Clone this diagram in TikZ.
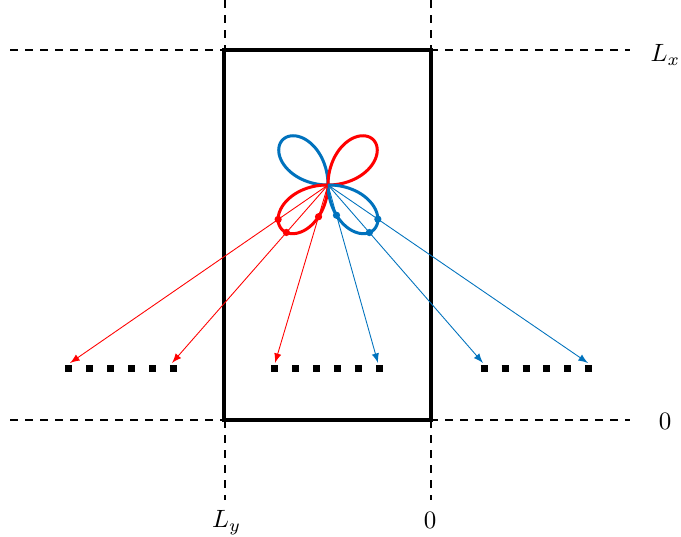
\documentclass[tikz,border=0pt]{standalone}
\usetikzlibrary{arrows}
\definecolor{lobeblue}{RGB}{0,114,189}

\begin{document}
\begin{tikzpicture}[x=0.4pt, y=-0.4pt]
    \tikzstyle{guide} = [dashed, line width=0.5pt]
    \tikzstyle{frame} = [line width=1.4pt]
    \tikzstyle{lobe} = [line width=1.2pt]
    \tikzstyle{ray} = [line width=0.35pt, ->, >=latex]
    \tikzstyle{pixels} = [line width=2.8pt, dash pattern=on 2.8pt off 5.58pt]
    \tikzstyle{lab} = [inner sep=0pt]

    \useasboundingbox (0,0) rectangle (681,536);

    % guide lines and labels
    \node (lx) [lab, anchor=base west] at (650,61.5) {$L_x$};
    \node (zr) [lab, anchor=base] at (665,429.5) {$0$};
    \node (ly) [lab, anchor=base west] at (211.5,527.5) {$L_y$};
    \node (zb) [lab, anchor=base] at (430,528) {$0$};
    \coordinate (ht1) at (10,50);
    \coordinate (ht2) at (630,50);
    \coordinate (hb1) at (10,420);
    \coordinate (hb2) at (630,420);
    \coordinate (vl1) at (225,0);
    \coordinate (vl2) at (225,500);
    \coordinate (vr1) at (431,0);
    \coordinate (vr2) at (431,500);
    \draw [guide] (ht1) -- (ht2);
    \draw [guide] (hb1) -- (hb2);
    \draw [guide] (vl1) -- (vl2);
    \draw [guide] (vr1) -- (vr2);

    % domain
    \coordinate (box1) at (224,50);
    \coordinate (box2) at (431,420);
    \draw [frame] (box1) rectangle (box2);

    % detector rows
    \draw [pixels] (65.2,368.5) -- (176.95,368.5);
    \draw [pixels] (271.1,368.5) -- (382.9,368.5);
    \draw [pixels] (480.6,368.5) -- (592.4,368.5);

    % source and its lobes
    \coordinate (c) at (328,185);
    \foreach \ax/\col in {225/lobeblue, 315/red, 136/red, 44/lobeblue}
        \draw [lobe, \col, shift={(c)}] plot[domain=\ax-45:\ax+45, samples=100, smooth] (\x:{64*cos(2*(\x-\ax))});

    % rays to the detectors
    \foreach \tx/\col/\ax in {70/red/136, 172/red/136, 275/red/136, 378/lobeblue/44, 483/lobeblue/44, 588/lobeblue/44} {
        \coordinate (t) at (\tx,363);
        \pgfmathsetmacro\ang{atan2(178,\tx-328)}
        \pgfmathsetmacro\rad{64*cos(2*(\ang-\ax))}
        \draw [ray, \col] (c) -- (t);
        \fill [\col] (c) ++(\ang:\rad) circle (1.45pt);
    }
\end{tikzpicture}
\end{document}
